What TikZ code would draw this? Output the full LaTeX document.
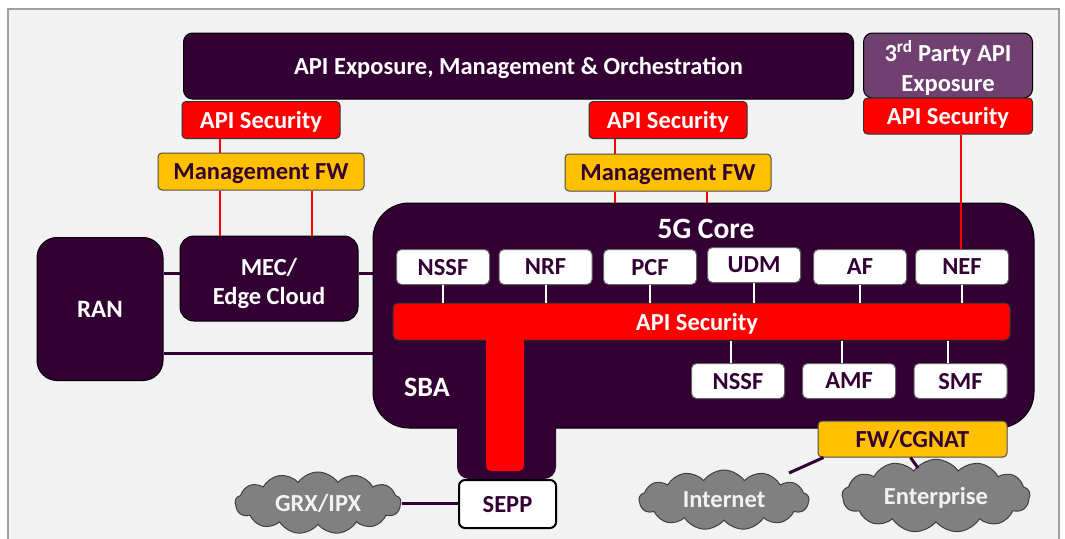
\documentclass[tikz,border=0pt]{standalone}
\usepackage{fontspec}
\setmainfont{Carlito}
\usetikzlibrary{shapes.symbols}
\definecolor{dpurple}{RGB}{51,0,51}
\definecolor{mpurple}{RGB}{112,64,112}
\definecolor{panelbg}{RGB}{242,242,242}
\definecolor{panelbd}{RGB}{160,160,160}
\definecolor{fwor}{RGB}{255,192,0}
\definecolor{cloudgray}{RGB}{128,128,128}
\tikzset{
  box/.style={rectangle, inner sep=0pt, text depth=0pt, font=\bfseries\fontsize{24.5}{26}\selectfont, align=center},
  darkbox/.style={box, fill=dpurple, draw=black, line width=1pt, text=white},
  secbox/.style={box, fill=red, draw=black!80, line width=1pt, text=white, rounded corners=4pt},
  fwbox/.style={box, fill=fwor, draw=black!70, line width=1pt, text=dpurple, rounded corners=4pt},
  nfbox/.style={box, fill=white, draw=black!60, line width=1pt, text=dpurple, rounded corners=5pt, minimum width=93pt, minimum height=35pt},
  cloudnode/.style={cloud, cloud puffs=13, cloud puff arc=110, aspect=2.6, fill=cloudgray, draw=black!75, line width=1pt, text=panelbg, inner sep=0pt, text depth=0pt, font=\bfseries\fontsize{24.5}{26}\selectfont},
  lbl/.style={text=white, inner sep=0pt, text depth=0pt, align=center},
  redline/.style={draw=red, line width=2pt},
  tick/.style={draw=white, line width=2pt},
  pline/.style={draw=dpurple, line width=3pt}
}
\begin{document}
\begin{tikzpicture}[x=1pt,y=-1pt]
\useasboundingbox (0,0) rectangle (1065,538);
\fill[white] (0,0) rectangle (1065,538);
% panel
\draw[fill=panelbg, draw=panelbd, line width=2pt] (8,9) -- (1059,9) -- (1059,545) -- (8,545) -- cycle;

% top row
\node[darkbox, rounded corners=9pt, minimum width=670pt, minimum height=66pt] (apiexp) at (518.5,66) {API Exposure, Management \& Orchestration};
\node[darkbox, fill=mpurple, rounded corners=9pt, minimum width=169pt, minimum height=65pt, font=\bfseries\fontsize{24.5}{30}\selectfont] (third) at (948,65.5) {3\textsuperscript{rd} Party API\\Exposure};
\node[secbox, minimum width=169pt, minimum height=36pt] (asR) at (948,116) {API Security};
\node[secbox, minimum width=158pt, minimum height=37pt] (asL) at (261,120) {API Security};
\node[secbox, minimum width=158pt, minimum height=37pt] (asM) at (668,120) {API Security};
\node[fwbox, minimum width=206pt, minimum height=37pt] (mfL) at (261,171.5) {Management FW};
\node[fwbox, minimum width=206pt, minimum height=37pt] (mfM) at (668,172.5) {Management FW};

% RAN, MEC
\node[darkbox, rounded corners=20pt, minimum width=126pt, minimum height=143pt, font=\bfseries\fontsize{25}{27}\selectfont] (ran) at (100,309) {RAN};
\node[darkbox, rounded corners=14pt, minimum width=178pt, minimum height=85pt] (mec) at (269,278.5) {};
\node[lbl, font=\bfseries\fontsize{24.5}{29}\selectfont] (mectext) at (269,281) {MEC/\\Edge Cloud};

% 5G core
\node[darkbox, rounded corners=36pt, minimum width=661pt, minimum height=225pt] (core) at (703.5,315.5) {};
\fill[dpurple, rounded corners=12pt] (457,400) -- (457,479) -- (556,479) -- (556,400) -- cycle;
\node[lbl, font=\bfseries\fontsize{29.5}{31}\selectfont] (coretitle) at (706,229) {5G Core};
\node[lbl, font=\bfseries\fontsize{28}{30}\selectfont] (sba) at (427,387) {SBA};

% API security bar + stem
\node[secbox, rounded corners=5pt, minimum width=617pt, minimum height=37pt] (apibar) at (701.5,321.5) {};
\fill[red, rounded corners=5pt] (486,330) -- (486,471) -- (524,471) -- (524,330) -- cycle;
\node[lbl, font=\bfseries\fontsize{24.5}{26}\selectfont] (apibartext) at (697,322) {API Security};

% NFs top row
\node[nfbox] (nssf1) at (443,267) {NSSF};
\node[nfbox] (nrf) at (545.5,267) {NRF};
\node[nfbox] (pcf) at (650,267) {PCF};
\node[nfbox] (udm) at (754,265) {UDM};
\node[nfbox] (af) at (860,267) {AF};
\node[nfbox] (nef) at (962,267) {NEF};
% bottom row
\node[nfbox] (nssf2) at (738,381) {NSSF};
\node[nfbox] (amf) at (849,381) {AMF};
\node[nfbox] (smf) at (960.5,381) {SMF};

\foreach \n in {nssf1,nrf,pcf,udm,af,nef}{
  \draw[tick] (\n.south) -- (apibar.north -| \n.south);
}
\coordinate (tkc) at (731,0);
\coordinate (tka) at (842,0);
\coordinate (tkb) at (948,0);
\draw[tick] (apibar.south -| tkc) -- (nssf2.north -| tkc);
\draw[tick] (apibar.south -| tka) -- (amf.north -| tka);
\draw[tick] (apibar.south -| tkb) -- (smf.north -| tkb);

% SEPP, FW/CGNAT
\node[box, fill=white, draw=black, line width=2pt, rounded corners=6pt, text=dpurple, minimum width=97pt, minimum height=48pt] (sepp) at (507.5,504) {SEPP};
\node[fwbox, minimum width=189pt, minimum height=36pt] (fw) at (912.5,439) {FW/CGNAT};

% clouds
\node[cloudnode, minimum width=166pt, minimum height=62pt] (grx) at (318,503) {GRX/IPX};
\node[cloudnode, minimum width=170pt, minimum height=60pt] (inet) at (724,500) {Internet};
\node[cloudnode, minimum width=188pt, minimum height=62pt] (ent) at (936,496) {Enterprise};

% red connectors
\coordinate (xa) at (220,0);
\coordinate (xb) at (312,0);
\coordinate (xc) at (615,0);
\coordinate (xd) at (707,0);
\coordinate (xe) at (961,0);
\draw[redline] (asL.south -| xa) -- (mfL.north -| xa);
\draw[redline] (mfL.south -| xa) -- (mec.north -| xa);
\draw[redline] (mfL.south -| xb) -- (mec.north -| xb);
\draw[redline] (asM.south -| xc) -- (mfM.north -| xc);
\draw[redline] (mfM.south -| xc) -- (core.north -| xc);
\draw[redline] (mfM.south -| xd) -- (core.north -| xd);
\draw[redline] (asR.south -| xe) -- (nef.north -| xe);

% purple connectors
\coordinate (ya) at (0,273);
\coordinate (yb) at (0,353);
\coordinate (ia) at (789,473);
\coordinate (ea) at (918,468);
\draw[pline] (ran.east |- ya) -- (mec.west |- ya);
\draw[pline] (mec.east |- ya) -- (core.west |- ya);
\draw[pline] (ran.east |- yb) -- (core.west |- yb);
\draw[pline] (grx.east) -- (sepp.west |- grx.east);
\draw[pline] ([xshift=6pt]fw.south west) -- (ia);
\draw[pline] ([xshift=-2pt]fw.south) -- (ea);
\end{tikzpicture}
\end{document}
